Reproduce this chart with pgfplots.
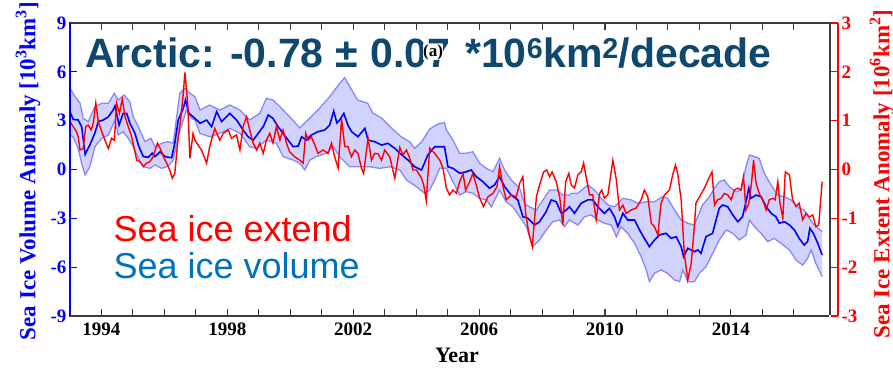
\documentclass[border=0pt]{standalone}
\usepackage{pgfplots}
\pgfplotsset{compat=1.18}
\usepackage{pgfplotstable}
\usepackage{fontspec}
\setmainfont{Liberation Serif}
\newfontfamily\headfont{Liberation Sans}

\definecolor{titleblue}{RGB}{14,72,110}
\definecolor{legblue}{RGB}{0,114,189}
\definecolor{bandfill}{RGB}{210,210,255}
\definecolor{bandedge}{RGB}{135,135,250}
\definecolor{axisgray}{RGB}{60,60,60}

% Sea ice volume anomaly, ensemble mean [10^3 km^3]
\pgfplotstableread{
x y
1993.00 3.55
1993.10 3.08
1993.26 3.04
1993.37 2.63
1993.48 0.93
1993.63 1.50
1993.79 2.24
1993.90 2.94
1994.06 3.04
1994.22 3.24
1994.37 3.65
1994.43 3.90
1994.56 2.73
1994.69 3.45
1994.80 3.45
1994.90 2.86
1995.06 2.24
1995.19 1.40
1995.33 0.79
1995.49 0.75
1995.61 1.00
1995.70 0.79
1995.86 1.09
1996.02 0.79
1996.23 0.72
1996.33 1.61
1996.44 3.04
1996.60 3.76
1996.67 4.27
1996.78 3.45
1996.97 3.14
1997.13 2.84
1997.34 3.04
1997.50 2.63
1997.66 3.55
1997.82 2.94
1998.08 3.45
1998.29 3.04
1998.50 2.43
1998.66 2.01
1998.82 1.81
1998.98 2.22
1999.14 2.63
1999.30 3.35
1999.45 3.14
1999.61 2.63
1999.77 2.22
1999.93 1.81
2000.09 1.40
2000.25 1.44
2000.36 2.01
2000.51 1.81
2000.67 2.12
2000.88 2.32
2001.10 2.43
2001.25 2.73
2001.38 3.59
2001.48 2.86
2001.57 3.04
2001.70 3.45
2001.83 2.73
2001.95 2.32
2002.15 2.01
2002.37 2.53
2002.47 1.81
2002.68 1.71
2002.90 1.50
2003.10 1.61
2003.32 1.30
2003.48 1.00
2003.74 0.58
2003.95 0.17
2004.17 -0.03
2004.37 0.89
2004.59 1.40
2004.75 1.40
2004.90 1.40
2005.01 0.17
2005.17 0.07
2005.38 -0.23
2005.59 -0.14
2005.75 -0.03
2005.91 -0.44
2006.12 -0.75
2006.33 -1.15
2006.49 -0.95
2006.65 -0.44
2006.81 -1.06
2007.02 -1.57
2007.23 -1.87
2007.39 -2.90
2007.55 -3.00
2007.76 -3.41
2007.92 -3.21
2008.13 -2.59
2008.29 -1.87
2008.45 -1.98
2008.61 -2.69
2008.77 -2.49
2008.87 -2.29
2009.03 -2.69
2009.24 -2.08
2009.45 -1.87
2009.61 -1.87
2009.77 -2.29
2009.98 -2.69
2010.14 -2.38
2010.30 -2.90
2010.41 -3.51
2010.57 -2.69
2010.72 -3.10
2010.94 -3.10
2011.10 -3.72
2011.25 -4.23
2011.41 -4.74
2011.57 -4.33
2011.73 -4.02
2011.94 -3.92
2012.10 -4.23
2012.26 -4.13
2012.42 -4.74
2012.50 -5.36
2012.63 -4.84
2012.84 -5.05
2012.95 -4.94
2013.05 -5.15
2013.21 -4.13
2013.42 -3.92
2013.53 -3.10
2013.63 -2.38
2013.74 -2.18
2013.90 -2.29
2014.06 -2.79
2014.22 -3.21
2014.37 -2.90
2014.48 -1.98
2014.57 -1.15
2014.64 -1.77
2014.80 -1.57
2014.96 -1.67
2015.12 -2.29
2015.28 -2.69
2015.43 -2.90
2015.54 -3.30
2015.70 -3.21
2015.86 -3.41
2016.02 -3.72
2016.17 -4.23
2016.33 -4.64
2016.44 -4.43
2016.51 -3.61
2016.62 -3.92
2016.76 -4.53
2016.90 -5.25
}\vol

% Upper edge of the volume spread
\pgfplotstableread{
x y
1993.00 4.99
1993.16 4.47
1993.32 4.07
1993.42 3.14
1993.58 2.94
1993.79 3.86
1994.01 4.07
1994.22 4.07
1994.41 4.68
1994.53 4.27
1994.72 4.58
1994.90 4.16
1995.01 3.24
1995.17 2.63
1995.38 1.71
1995.57 1.92
1995.70 1.40
1995.91 1.61
1996.12 1.71
1996.28 1.61
1996.39 3.24
1996.49 4.68
1996.65 4.99
1996.81 4.68
1996.97 4.47
1997.13 3.65
1997.44 3.96
1997.76 3.65
1998.08 3.96
1998.40 3.65
1998.71 3.04
1999.03 3.45
1999.24 4.37
1999.45 4.27
1999.67 3.86
1999.98 3.24
2000.30 2.55
2000.62 3.16
2000.94 3.78
2001.25 4.47
2001.57 5.29
2001.73 5.65
2001.89 5.09
2002.14 4.27
2002.46 4.07
2002.62 3.47
2002.90 3.16
2003.21 2.55
2003.53 2.00
2003.79 1.71
2003.95 1.30
2004.17 1.69
2004.43 2.49
2004.69 2.79
2004.90 2.89
2004.96 2.43
2005.17 1.81
2005.38 1.00
2005.59 1.00
2005.80 1.09
2006.02 0.38
2006.23 0.07
2006.44 -0.14
2006.65 0.69
2006.81 -0.03
2007.02 -0.64
2007.29 -1.15
2007.44 -2.08
2007.60 -2.29
2007.82 -2.49
2008.03 -1.87
2008.24 -1.26
2008.45 -1.26
2008.66 -1.57
2008.87 -1.57
2008.93 -1.46
2009.14 -1.46
2009.45 -0.95
2009.67 -1.26
2009.88 -1.77
2010.09 -2.18
2010.30 -2.29
2010.57 -1.77
2010.83 -1.87
2011.04 -2.08
2011.31 -1.98
2011.57 -1.98
2011.83 -1.67
2011.99 -1.77
2012.21 -2.49
2012.42 -3.10
2012.63 -3.30
2012.84 -3.41
2013.10 -2.18
2013.32 -1.67
2013.48 -1.15
2013.63 -0.75
2013.79 -0.64
2013.95 -1.06
2014.17 -1.36
2014.32 -1.26
2014.48 0.17
2014.59 0.89
2014.75 0.79
2014.90 0.69
2015.06 -0.23
2015.28 -0.95
2015.49 -1.57
2015.70 -1.67
2015.91 -1.87
2016.17 -2.38
2016.33 -2.49
2016.49 -3.00
2016.65 -3.41
2016.90 -3.82
}\volhi

% Lower edge of the volume spread
\pgfplotstableread{
x y
1993.00 2.12
1993.10 2.01
1993.26 1.30
1993.37 0.38
1993.48 -0.34
1993.63 0.17
1993.79 1.40
1994.01 1.92
1994.22 2.12
1994.43 3.04
1994.53 2.12
1994.69 2.32
1994.85 1.92
1995.01 1.40
1995.17 0.69
1995.33 0.17
1995.54 0.07
1995.70 0.28
1995.91 0.07
1996.12 0.21
1996.28 0.58
1996.44 2.01
1996.60 3.04
1996.70 3.65
1996.86 3.14
1996.97 3.04
1997.13 2.22
1997.44 2.01
1997.76 2.22
1998.08 2.53
1998.40 2.22
1998.71 1.40
1998.93 1.30
1999.24 1.81
1999.56 1.61
1999.77 0.79
2000.09 0.58
2000.30 0.38
2000.46 -0.03
2000.62 0.58
2000.83 0.79
2001.15 1.00
2001.36 1.40
2001.57 0.79
2001.89 0.17
2002.21 0.17
2002.52 0.17
2002.84 0.07
2003.16 0.17
2003.48 -0.03
2003.69 -0.64
2004.01 -1.06
2004.27 -1.46
2004.43 -1.26
2004.59 -0.64
2004.75 0.09
2004.96 0.07
2005.17 -0.75
2005.38 -1.57
2005.59 -1.36
2005.80 -1.46
2006.02 -1.77
2006.23 -1.87
2006.39 -2.29
2006.65 -1.26
2006.86 -1.98
2007.07 -2.29
2007.29 -2.90
2007.50 -3.51
2007.71 -4.74
2007.92 -4.33
2008.13 -3.72
2008.34 -3.21
2008.56 -3.10
2008.71 -3.51
2008.87 -3.10
2009.14 -3.41
2009.35 -2.90
2009.56 -2.79
2009.77 -3.10
2009.98 -3.30
2010.20 -3.41
2010.36 -4.13
2010.51 -3.51
2010.72 -3.92
2010.94 -4.53
2011.15 -5.36
2011.31 -6.17
2011.41 -6.89
2011.57 -6.38
2011.78 -6.17
2011.99 -6.38
2012.21 -6.79
2012.37 -6.89
2012.47 -6.17
2012.63 -6.89
2012.84 -6.89
2013.00 -6.38
2013.21 -5.97
2013.42 -5.15
2013.63 -4.33
2013.85 -3.72
2014.06 -3.92
2014.27 -4.33
2014.48 -4.02
2014.59 -3.10
2014.75 -3.51
2014.96 -3.92
2015.17 -4.43
2015.38 -4.23
2015.59 -4.53
2015.86 -4.94
2016.07 -5.56
2016.28 -5.87
2016.44 -5.45
2016.55 -4.94
2016.70 -5.76
2016.90 -6.58
}\vollo

% Spread envelope as a closed outline: upper edge forward, lower edge back
\pgfplotstableread{
x y
1993.00 4.99
1993.16 4.47
1993.32 4.07
1993.42 3.14
1993.58 2.94
1993.79 3.86
1994.01 4.07
1994.22 4.07
1994.41 4.68
1994.53 4.27
1994.72 4.58
1994.90 4.16
1995.01 3.24
1995.17 2.63
1995.38 1.71
1995.57 1.92
1995.70 1.40
1995.91 1.61
1996.12 1.71
1996.28 1.61
1996.39 3.24
1996.49 4.68
1996.65 4.99
1996.81 4.68
1996.97 4.47
1997.13 3.65
1997.44 3.96
1997.76 3.65
1998.08 3.96
1998.40 3.65
1998.71 3.04
1999.03 3.45
1999.24 4.37
1999.45 4.27
1999.67 3.86
1999.98 3.24
2000.30 2.55
2000.62 3.16
2000.94 3.78
2001.25 4.47
2001.57 5.29
2001.73 5.65
2001.89 5.09
2002.14 4.27
2002.46 4.07
2002.62 3.47
2002.90 3.16
2003.21 2.55
2003.53 2.00
2003.79 1.71
2003.95 1.30
2004.17 1.69
2004.43 2.49
2004.69 2.79
2004.90 2.89
2004.96 2.43
2005.17 1.81
2005.38 1.00
2005.59 1.00
2005.80 1.09
2006.02 0.38
2006.23 0.07
2006.44 -0.14
2006.65 0.69
2006.81 -0.03
2007.02 -0.64
2007.29 -1.15
2007.44 -2.08
2007.60 -2.29
2007.82 -2.49
2008.03 -1.87
2008.24 -1.26
2008.45 -1.26
2008.66 -1.57
2008.87 -1.57
2008.93 -1.46
2009.14 -1.46
2009.45 -0.95
2009.67 -1.26
2009.88 -1.77
2010.09 -2.18
2010.30 -2.29
2010.57 -1.77
2010.83 -1.87
2011.04 -2.08
2011.31 -1.98
2011.57 -1.98
2011.83 -1.67
2011.99 -1.77
2012.21 -2.49
2012.42 -3.10
2012.63 -3.30
2012.84 -3.41
2013.10 -2.18
2013.32 -1.67
2013.48 -1.15
2013.63 -0.75
2013.79 -0.64
2013.95 -1.06
2014.17 -1.36
2014.32 -1.26
2014.48 0.17
2014.59 0.89
2014.75 0.79
2014.90 0.69
2015.06 -0.23
2015.28 -0.95
2015.49 -1.57
2015.70 -1.67
2015.91 -1.87
2016.17 -2.38
2016.33 -2.49
2016.49 -3.00
2016.65 -3.41
2016.90 -3.82
2016.90 -6.58
2016.70 -5.76
2016.55 -4.94
2016.44 -5.45
2016.28 -5.87
2016.07 -5.56
2015.86 -4.94
2015.59 -4.53
2015.38 -4.23
2015.17 -4.43
2014.96 -3.92
2014.75 -3.51
2014.59 -3.10
2014.48 -4.02
2014.27 -4.33
2014.06 -3.92
2013.85 -3.72
2013.63 -4.33
2013.42 -5.15
2013.21 -5.97
2013.00 -6.38
2012.84 -6.89
2012.63 -6.89
2012.47 -6.17
2012.37 -6.89
2012.21 -6.79
2011.99 -6.38
2011.78 -6.17
2011.57 -6.38
2011.41 -6.89
2011.31 -6.17
2011.15 -5.36
2010.94 -4.53
2010.72 -3.92
2010.51 -3.51
2010.36 -4.13
2010.20 -3.41
2009.98 -3.30
2009.77 -3.10
2009.56 -2.79
2009.35 -2.90
2009.14 -3.41
2008.87 -3.10
2008.71 -3.51
2008.56 -3.10
2008.34 -3.21
2008.13 -3.72
2007.92 -4.33
2007.71 -4.74
2007.50 -3.51
2007.29 -2.90
2007.07 -2.29
2006.86 -1.98
2006.65 -1.26
2006.39 -2.29
2006.23 -1.87
2006.02 -1.77
2005.80 -1.46
2005.59 -1.36
2005.38 -1.57
2005.17 -0.75
2004.96 0.07
2004.75 0.09
2004.59 -0.64
2004.43 -1.26
2004.27 -1.46
2004.01 -1.06
2003.69 -0.64
2003.48 -0.03
2003.16 0.17
2002.84 0.07
2002.52 0.17
2002.21 0.17
2001.89 0.17
2001.57 0.79
2001.36 1.40
2001.15 1.00
2000.83 0.79
2000.62 0.58
2000.46 -0.03
2000.30 0.38
2000.09 0.58
1999.77 0.79
1999.56 1.61
1999.24 1.81
1998.93 1.30
1998.71 1.40
1998.40 2.22
1998.08 2.53
1997.76 2.22
1997.44 2.01
1997.13 2.22
1996.97 3.04
1996.86 3.14
1996.70 3.65
1996.60 3.04
1996.44 2.01
1996.28 0.58
1996.12 0.21
1995.91 0.07
1995.70 0.28
1995.54 0.07
1995.33 0.17
1995.17 0.69
1995.01 1.40
1994.85 1.92
1994.69 2.32
1994.53 2.12
1994.43 3.04
1994.22 2.12
1994.01 1.92
1993.79 1.40
1993.63 0.17
1993.48 -0.34
1993.37 0.38
1993.26 1.30
1993.10 2.01
1993.00 2.12
}\volband

% Sea ice extent anomaly [10^6 km^2]
\pgfplotstableread{
x y
1993.00 0.98
1993.10 0.88
1993.21 0.77
1993.26 0.67
1993.32 0.40
1993.42 0.43
1993.50 0.88
1993.58 0.91
1993.67 0.81
1993.74 0.95
1993.82 1.36
1993.90 0.98
1994.01 0.77
1994.11 0.60
1994.22 0.43
1994.32 0.64
1994.41 0.60
1994.48 1.36
1994.57 1.15
1994.66 1.44
1994.75 1.08
1994.85 0.88
1994.96 0.67
1995.12 0.19
1995.22 0.16
1995.33 0.06
1995.43 0.13
1995.54 0.16
1995.64 0.26
1995.78 0.54
1995.89 0.40
1995.99 0.23
1996.07 0.13
1996.17 -0.01
1996.25 -0.18
1996.33 -0.08
1996.44 0.67
1996.52 1.05
1996.60 1.56
1996.65 1.99
1996.74 1.36
1996.81 0.23
1996.91 0.74
1996.97 0.60
1997.07 0.50
1997.18 0.40
1997.34 0.13
1997.44 0.47
1997.60 0.84
1997.76 0.60
1997.87 0.74
1998.03 0.81
1998.13 0.64
1998.29 0.71
1998.40 0.40
1998.50 0.88
1998.61 1.08
1998.71 0.81
1998.82 0.54
1998.93 0.40
1999.03 0.54
1999.14 0.33
1999.24 0.60
1999.35 0.74
1999.45 0.54
1999.56 0.88
1999.67 0.60
1999.77 0.81
1999.88 0.54
1999.98 0.36
2000.14 0.26
2000.30 0.19
2000.41 0.13
2000.49 0.74
2000.57 0.60
2000.67 0.67
2000.78 0.50
2000.88 0.33
2001.04 0.40
2001.20 0.33
2001.31 0.54
2001.41 0.26
2001.52 0.03
2001.63 1.03
2001.73 0.47
2001.83 0.47
2001.94 0.26
2002.05 0.40
2002.15 0.33
2002.26 0.03
2002.33 -0.08
2002.47 0.64
2002.58 0.19
2002.68 0.33
2002.79 0.32
2002.90 0.19
2003.00 0.40
2003.16 0.26
2003.32 -0.18
2003.48 0.45
2003.58 0.30
2003.69 0.40
2003.79 0.24
2003.90 -0.01
2004.01 -0.01
2004.17 -0.18
2004.24 -0.32
2004.32 -0.64
2004.43 0.44
2004.59 0.33
2004.75 0.19
2004.85 0.03
2004.96 -0.38
2005.06 -0.52
2005.17 -0.42
2005.28 -0.49
2005.38 -0.25
2005.49 -0.08
2005.57 -0.42
2005.70 -0.25
2005.80 -0.08
2005.91 -0.32
2006.02 -0.59
2006.14 -0.76
2006.28 -0.56
2006.44 -0.49
2006.57 -0.35
2006.65 0.06
2006.76 -0.35
2006.86 -0.62
2007.02 -0.52
2007.18 -0.56
2007.29 -0.28
2007.39 -0.15
2007.48 -0.90
2007.58 -1.31
2007.69 -1.58
2007.82 -0.56
2007.92 -0.32
2008.05 -0.05
2008.15 -0.01
2008.24 -0.15
2008.32 -0.05
2008.45 -0.25
2008.56 -0.56
2008.66 -1.14
2008.75 -0.25
2008.85 -0.08
2008.93 -0.32
2009.03 -0.38
2009.14 -0.11
2009.24 -0.05
2009.32 0.13
2009.40 -0.15
2009.51 -0.52
2009.61 -0.52
2009.72 -1.03
2009.83 -0.49
2009.90 -0.42
2009.98 -0.59
2010.09 -0.52
2010.25 0.19
2010.36 -0.21
2010.46 -0.83
2010.57 -0.73
2010.67 -0.90
2010.83 -0.83
2010.99 -0.79
2011.15 -0.62
2011.25 -0.42
2011.36 -0.56
2011.47 -1.10
2011.57 -1.17
2011.68 -1.34
2011.78 -0.69
2011.89 -0.52
2012.05 -0.42
2012.15 -0.11
2012.24 0.09
2012.31 -0.08
2012.42 -0.62
2012.52 -1.72
2012.63 -2.26
2012.74 -1.92
2012.84 -1.17
2012.89 -0.69
2013.00 -0.56
2013.16 -0.38
2013.32 -0.15
2013.40 -0.05
2013.48 -0.73
2013.58 -0.62
2013.69 -0.59
2013.79 -0.49
2013.90 -0.52
2014.01 -0.62
2014.11 -0.42
2014.22 -0.38
2014.32 -0.42
2014.40 -0.15
2014.48 -0.83
2014.57 -0.69
2014.66 -0.25
2014.72 0.19
2014.80 -0.28
2014.90 -0.49
2015.01 -0.62
2015.12 -0.83
2015.22 -0.62
2015.33 -0.59
2015.41 -0.62
2015.49 -0.25
2015.56 -0.69
2015.65 -1.00
2015.73 -0.05
2015.86 -0.11
2015.96 -0.62
2016.07 -0.76
2016.17 -0.69
2016.28 -1.03
2016.39 -0.90
2016.49 -0.97
2016.60 -0.93
2016.70 -1.17
2016.79 -1.14
2016.90 -0.25
}\ext

\begin{document}
\begin{tikzpicture}
\path[use as bounding box] (-70pt,-51pt) rectangle (823pt,316pt);

% Volume axis (left, blue)
\begin{axis}[
  at={(0pt,0pt)}, anchor=south west, scale only axis,
  width=760pt, height=293pt,
  xmin=1993, xmax=2017.15, ymin=-9, ymax=9,
  axis lines=box,
  axis line style={axisgray, line width=1.3pt},
  xtick={1994,1998,2002,2006,2010,2014},
  xticklabels={1994,1998,2002,2006,2010,2014},
  minor xtick={1995,1996,1997,1999,2000,2001,2003,2004,2005,2007,2008,2009,2011,2012,2013,2015,2016},
  ytick={-9,-6,-3,0,3,6,9},
  yticklabels={-9,-6,-3,0,3,6,9},
  ytick pos=left,
  tick align=inside,
  major tick length=7pt, minor tick length=7pt,
  x tick style={axisgray, line width=1.1pt},
  minor x tick style={axisgray, line width=1.1pt},
  y tick style={blue, line width=1.3pt},
  xticklabel style={font=\bfseries\fontsize{19}{20}\selectfont, text=black, yshift=-3pt},
  yticklabel style={font=\bfseries\fontsize{19}{20}\selectfont, text=blue},
]
\addplot[fill=bandfill, draw=none, forget plot] table {\volband} -- cycle;
\addplot[bandedge, line width=1.3pt, forget plot] table {\volhi};
\addplot[bandedge, line width=1.3pt, forget plot] table {\vollo};
\addplot[blue, line width=1.6pt] table {\vol};
\end{axis}

% Extent axis (right, red)
\begin{axis}[
  at={(0pt,0pt)}, anchor=south west, scale only axis,
  width=768pt, height=293pt,
  xmin=1993, xmax=2017.404, ymin=-3, ymax=3,
  hide x axis,
  axis y line*=right,
  y axis line style={red, line width=1.6pt},
  ytick={-3,-2,-1,0,1,2,3},
  yticklabels={-3,-2,-1,0,1,2,3},
  tick align=inside, major tick length=7pt,
  y tick style={red, line width=1.3pt},
  yticklabel style={font=\bfseries\fontsize{19}{20}\selectfont, text=red},
]
\addplot[red, line width=1.4pt] table {\ext};
\end{axis}

% white-out of the black right edge of the box, then the blue left spine
\fill[white] (758.6pt,-1pt) rectangle (761.4pt,1pt);
\draw[blue, line width=1.6pt] (0pt,0pt) -- (0pt,293pt);

% headline, set piece by piece
\begin{scope}[every node/.style={anchor=base west, inner sep=0pt, text=titleblue,
    font=\headfont\bfseries\fontsize{41}{48}\selectfont}]
  \node at (15pt,248pt) {Arctic:};
  \node at (160pt,248pt) {-0.78};
  \node at (265pt,248pt) {±};
  \node at (300pt,248pt) {0.07};
  \node at (395pt,248pt) {*10\textsuperscript{6}km\textsuperscript{2}/decade};
\end{scope}
\node[fill=white, inner sep=0.4pt, font=\bfseries\fontsize{17}{18}\selectfont] at (363pt,264pt) {(a)};

\node[anchor=base west, text=red, font=\headfont\fontsize{36}{40}\selectfont]
  at (40pt,74.3pt) {Sea ice extend};
\node[anchor=base west, text=legblue, font=\headfont\fontsize{36}{40}\selectfont]
  at (40pt,37.7pt) {Sea ice volume};

\node[rotate=90, text=blue, font=\bfseries\fontsize{23}{24}\selectfont]
  at (-42pt,145pt) {Sea Ice Volume Anomaly [10\textsuperscript{3}km\textsuperscript{3}]};
\node[rotate=90, text=red, font=\bfseries\fontsize{23}{24}\selectfont]
  at (812pt,142pt) {Sea Ice Extent Anomaly [10\textsuperscript{6}km\textsuperscript{2}]};
\node[anchor=base, font=\bfseries\fontsize{22}{24}\selectfont] at (387pt,-46pt) {Year};
\end{tikzpicture}
\end{document}
